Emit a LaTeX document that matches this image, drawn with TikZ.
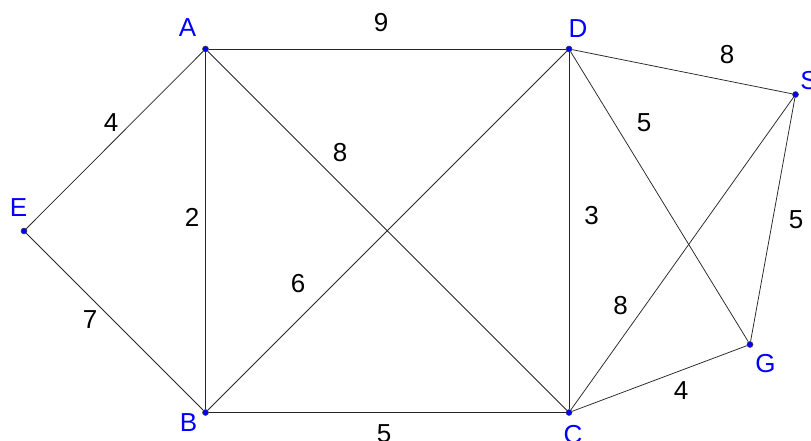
\documentclass[tikz,border=0pt]{standalone}
\usepackage{fontspec}
\setmainfont{Liberation Sans}
\begin{document}
\begin{tikzpicture}[x=1pt, y=-1pt,
    pt/.style={circle, draw=black!75, fill=blue, line width=0.5pt, inner sep=0pt, minimum size=6pt},
    vlab/.style={text=blue, font=\fontsize{26}{28}\selectfont},
    wlab/.style={font=\fontsize{26}{28}\selectfont},
    edge/.style={draw=black!85, line width=0.75pt}
  ]
    \useasboundingbox (0,0) rectangle (811,441);

    % vertices
    \node[pt] (A) at (205.5,49) {};
    \node[pt] (D) at (569,49) {};
    \node[pt] (S) at (795.5,94.5) {};
    \node[pt] (E) at (24,231) {};
    \node[pt] (B) at (205.5,412.5) {};
    \node[pt] (C) at (569,412.5) {};
    \node[pt] (G) at (750,344.5) {};

    % edges
    \draw[edge] (A) -- (D);
    \draw[edge] (A) -- (E);
    \draw[edge] (A) -- (B);
    \draw[edge] (A) -- (C);
    \draw[edge] (E) -- (B);
    \draw[edge] (B) -- (C);
    \draw[edge] (B) -- (D);
    \draw[edge] (D) -- (C);
    \draw[edge] (D) -- (S);
    \draw[edge] (D) -- (G);
    \draw[edge] (S) -- (C);
    \draw[edge] (S) -- (G);
    \draw[edge] (C) -- (G);

    % vertex names
    \node[vlab] (nA) at (187.5,28) {A};
    \node[vlab] (nD) at (578,29) {D};
    \node[vlab] (nS) at (809,81) {S};
    \node[vlab] (nE) at (18.5,208) {E};
    \node[vlab] (nB) at (188.5,423) {B};
    \node[vlab] (nC) at (573,434.5) {C};
    \node[vlab] (nG) at (765.5,364) {G};

    % weights
    \node[wlab] (wAD) at (381,23) {9};
    \node[wlab] (wDS) at (727,55) {8};
    \node[wlab] (wAE) at (111,123) {4};
    \node[wlab] (wAC) at (340,153) {8};
    \node[wlab] (wDG) at (644,123) {5};
    \node[wlab] (wAB) at (192,217) {2};
    \node[wlab] (wDC) at (591.5,216) {3};
    \node[wlab] (wSG) at (796,220) {5};
    \node[wlab] (wBD) at (298,284) {6};
    \node[wlab] (wEB) at (90,320) {7};
    \node[wlab] (wSC) at (620.5,305.5) {8};
    \node[wlab] (wCG) at (681,391) {4};
    \node[wlab] (wBC) at (384,434) {5};
  \end{tikzpicture}
\end{document}
